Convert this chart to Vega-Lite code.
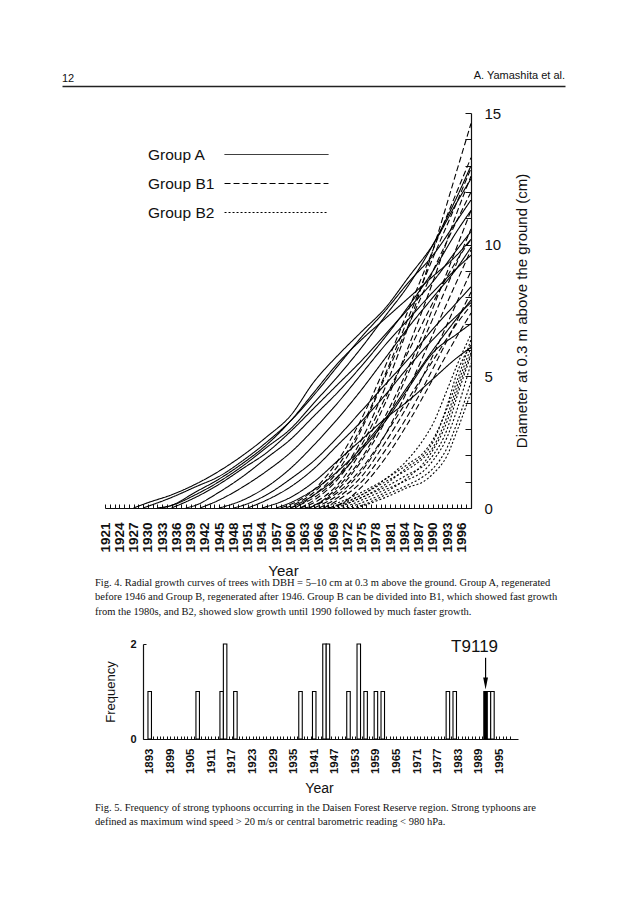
{
  "$schema": "https://vega.github.io/schema/vega-lite/v6.json",
  "background": "white",
  "padding": {"left": 62, "top": 70, "right": 10, "bottom": 10},
  "title": {"text": "12", "anchor": "start", "frame": "bounds", "dx": 0, "dy": 14, "offset": 0, "fontSize": 11, "fontWeight": "normal", "font": "Liberation Sans", "color": "#111"},
  "config": {
    "view": {"stroke": null},
    "font": "Liberation Sans",
    "axis": {"domainColor": "#111", "tickColor": "#111", "labelColor": "#111", "titleColor": "#111", "grid": false, "labelFont": "Liberation Sans", "titleFont": "Liberation Sans"},
    "axisY": {"labelOverlap": false}
  },
  "datasets": {
    "header": [{"running_head": "A. Yamashita et al."}],
    "trees": [
      {"tree":"A1","group":"Group A","year":1927,"diameter":0},{"tree":"A1","group":"Group A","year":1930,"diameter":0.2},{"tree":"A1","group":"Group A","year":1935,"diameter":0.5},{"tree":"A1","group":"Group A","year":1940,"diameter":0.9},{"tree":"A1","group":"Group A","year":1945,"diameter":1.4},{"tree":"A1","group":"Group A","year":1950,"diameter":2.0},{"tree":"A1","group":"Group A","year":1955,"diameter":2.7},{"tree":"A1","group":"Group A","year":1960,"diameter":3.5},{"tree":"A1","group":"Group A","year":1965,"diameter":4.8},{"tree":"A1","group":"Group A","year":1970,"diameter":5.8},{"tree":"A1","group":"Group A","year":1975,"diameter":6.7},{"tree":"A1","group":"Group A","year":1980,"diameter":7.6},{"tree":"A1","group":"Group A","year":1985,"diameter":8.8},{"tree":"A1","group":"Group A","year":1990,"diameter":10.0},{"tree":"A1","group":"Group A","year":1995,"diameter":11.6},{"tree":"A1","group":"Group A","year":1998,"diameter":12.5},
      {"tree":"A2","group":"Group A","year":1929,"diameter":0},{"tree":"A2","group":"Group A","year":1935,"diameter":0.4},{"tree":"A2","group":"Group A","year":1940,"diameter":0.8},{"tree":"A2","group":"Group A","year":1945,"diameter":1.2},{"tree":"A2","group":"Group A","year":1950,"diameter":1.8},{"tree":"A2","group":"Group A","year":1955,"diameter":2.5},{"tree":"A2","group":"Group A","year":1960,"diameter":3.3},{"tree":"A2","group":"Group A","year":1965,"diameter":4.3},{"tree":"A2","group":"Group A","year":1970,"diameter":5.4},{"tree":"A2","group":"Group A","year":1975,"diameter":6.5},{"tree":"A2","group":"Group A","year":1980,"diameter":7.5},{"tree":"A2","group":"Group A","year":1985,"diameter":8.6},{"tree":"A2","group":"Group A","year":1990,"diameter":9.6},{"tree":"A2","group":"Group A","year":1995,"diameter":10.9},{"tree":"A2","group":"Group A","year":1998,"diameter":11.7},
      {"tree":"A3","group":"Group A","year":1932,"diameter":0},{"tree":"A3","group":"Group A","year":1935,"diameter":0.1},{"tree":"A3","group":"Group A","year":1940,"diameter":0.5},{"tree":"A3","group":"Group A","year":1945,"diameter":1.0},{"tree":"A3","group":"Group A","year":1950,"diameter":1.6},{"tree":"A3","group":"Group A","year":1955,"diameter":2.3},{"tree":"A3","group":"Group A","year":1960,"diameter":3.0},{"tree":"A3","group":"Group A","year":1965,"diameter":4.0},{"tree":"A3","group":"Group A","year":1970,"diameter":5.0},{"tree":"A3","group":"Group A","year":1975,"diameter":6.1},{"tree":"A3","group":"Group A","year":1980,"diameter":7.3},{"tree":"A3","group":"Group A","year":1985,"diameter":8.5},{"tree":"A3","group":"Group A","year":1990,"diameter":10.0},{"tree":"A3","group":"Group A","year":1995,"diameter":11.8},{"tree":"A3","group":"Group A","year":1998,"diameter":13.0},
      {"tree":"A4","group":"Group A","year":1935,"diameter":0},{"tree":"A4","group":"Group A","year":1940,"diameter":0.4},{"tree":"A4","group":"Group A","year":1945,"diameter":0.9},{"tree":"A4","group":"Group A","year":1950,"diameter":1.5},{"tree":"A4","group":"Group A","year":1955,"diameter":2.1},{"tree":"A4","group":"Group A","year":1960,"diameter":2.9},{"tree":"A4","group":"Group A","year":1965,"diameter":3.8},{"tree":"A4","group":"Group A","year":1970,"diameter":4.7},{"tree":"A4","group":"Group A","year":1975,"diameter":5.6},{"tree":"A4","group":"Group A","year":1980,"diameter":6.6},{"tree":"A4","group":"Group A","year":1985,"diameter":7.6},{"tree":"A4","group":"Group A","year":1990,"diameter":8.6},{"tree":"A4","group":"Group A","year":1995,"diameter":9.8},{"tree":"A4","group":"Group A","year":1998,"diameter":10.5},
      {"tree":"A5","group":"Group A","year":1938,"diameter":0},{"tree":"A5","group":"Group A","year":1940,"diameter":0.1},{"tree":"A5","group":"Group A","year":1945,"diameter":0.6},{"tree":"A5","group":"Group A","year":1950,"diameter":1.2},{"tree":"A5","group":"Group A","year":1955,"diameter":1.9},{"tree":"A5","group":"Group A","year":1960,"diameter":2.6},{"tree":"A5","group":"Group A","year":1965,"diameter":3.5},{"tree":"A5","group":"Group A","year":1970,"diameter":4.4},{"tree":"A5","group":"Group A","year":1975,"diameter":5.4},{"tree":"A5","group":"Group A","year":1980,"diameter":6.5},{"tree":"A5","group":"Group A","year":1985,"diameter":7.7},{"tree":"A5","group":"Group A","year":1990,"diameter":9.0},{"tree":"A5","group":"Group A","year":1995,"diameter":10.5},{"tree":"A5","group":"Group A","year":1998,"diameter":11.3},
      {"tree":"A6","group":"Group A","year":1941,"diameter":0},{"tree":"A6","group":"Group A","year":1945,"diameter":0.3},{"tree":"A6","group":"Group A","year":1950,"diameter":0.8},{"tree":"A6","group":"Group A","year":1955,"diameter":1.4},{"tree":"A6","group":"Group A","year":1960,"diameter":2.1},{"tree":"A6","group":"Group A","year":1965,"diameter":3.0},{"tree":"A6","group":"Group A","year":1970,"diameter":4.0},{"tree":"A6","group":"Group A","year":1975,"diameter":5.1},{"tree":"A6","group":"Group A","year":1980,"diameter":6.2},{"tree":"A6","group":"Group A","year":1985,"diameter":7.2},{"tree":"A6","group":"Group A","year":1990,"diameter":8.2},{"tree":"A6","group":"Group A","year":1995,"diameter":9.1},{"tree":"A6","group":"Group A","year":1998,"diameter":9.6},
      {"tree":"A7","group":"Group A","year":1945,"diameter":0},{"tree":"A7","group":"Group A","year":1950,"diameter":0.3},{"tree":"A7","group":"Group A","year":1955,"diameter":0.8},{"tree":"A7","group":"Group A","year":1960,"diameter":1.5},{"tree":"A7","group":"Group A","year":1965,"diameter":2.4},{"tree":"A7","group":"Group A","year":1970,"diameter":3.4},{"tree":"A7","group":"Group A","year":1975,"diameter":4.5},{"tree":"A7","group":"Group A","year":1980,"diameter":5.7},{"tree":"A7","group":"Group A","year":1985,"diameter":6.9},{"tree":"A7","group":"Group A","year":1990,"diameter":8.0},{"tree":"A7","group":"Group A","year":1995,"diameter":9.1},{"tree":"A7","group":"Group A","year":1998,"diameter":9.9},
      {"tree":"A8","group":"Group A","year":1948,"diameter":0},{"tree":"A8","group":"Group A","year":1950,"diameter":0.1},{"tree":"A8","group":"Group A","year":1955,"diameter":0.5},{"tree":"A8","group":"Group A","year":1960,"diameter":1.1},{"tree":"A8","group":"Group A","year":1965,"diameter":1.8},{"tree":"A8","group":"Group A","year":1970,"diameter":2.7},{"tree":"A8","group":"Group A","year":1975,"diameter":3.7},{"tree":"A8","group":"Group A","year":1980,"diameter":4.7},{"tree":"A8","group":"Group A","year":1985,"diameter":5.7},{"tree":"A8","group":"Group A","year":1990,"diameter":6.8},{"tree":"A8","group":"Group A","year":1995,"diameter":7.8},{"tree":"A8","group":"Group A","year":1998,"diameter":8.4},
      {"tree":"A9","group":"Group A","year":1951,"diameter":0},{"tree":"A9","group":"Group A","year":1955,"diameter":0.3},{"tree":"A9","group":"Group A","year":1960,"diameter":0.8},{"tree":"A9","group":"Group A","year":1965,"diameter":1.5},{"tree":"A9","group":"Group A","year":1970,"diameter":2.4},{"tree":"A9","group":"Group A","year":1975,"diameter":3.3},{"tree":"A9","group":"Group A","year":1980,"diameter":4.3},{"tree":"A9","group":"Group A","year":1985,"diameter":5.4},{"tree":"A9","group":"Group A","year":1990,"diameter":6.4},{"tree":"A9","group":"Group A","year":1995,"diameter":7.3},{"tree":"A9","group":"Group A","year":1998,"diameter":7.8},
      {"tree":"A10","group":"Group A","year":1954,"diameter":0},{"tree":"A10","group":"Group A","year":1960,"diameter":0.4},{"tree":"A10","group":"Group A","year":1965,"diameter":1.0},{"tree":"A10","group":"Group A","year":1970,"diameter":1.8},{"tree":"A10","group":"Group A","year":1975,"diameter":2.6},{"tree":"A10","group":"Group A","year":1980,"diameter":3.4},{"tree":"A10","group":"Group A","year":1985,"diameter":4.1},{"tree":"A10","group":"Group A","year":1990,"diameter":4.9},{"tree":"A10","group":"Group A","year":1995,"diameter":5.7},{"tree":"A10","group":"Group A","year":1998,"diameter":6.1},
      {"tree":"A11","group":"Group A","year":1957,"diameter":0},{"tree":"A11","group":"Group A","year":1960,"diameter":0.2},{"tree":"A11","group":"Group A","year":1965,"diameter":0.7},{"tree":"A11","group":"Group A","year":1970,"diameter":1.4},{"tree":"A11","group":"Group A","year":1975,"diameter":2.3},{"tree":"A11","group":"Group A","year":1980,"diameter":3.4},{"tree":"A11","group":"Group A","year":1985,"diameter":4.7},{"tree":"A11","group":"Group A","year":1990,"diameter":6.0},{"tree":"A11","group":"Group A","year":1995,"diameter":7.2},{"tree":"A11","group":"Group A","year":1998,"diameter":7.9},
      {"tree":"A12","group":"Group A","year":1960,"diameter":0},{"tree":"A12","group":"Group A","year":1965,"diameter":0.5},{"tree":"A12","group":"Group A","year":1970,"diameter":1.2},{"tree":"A12","group":"Group A","year":1975,"diameter":2.2},{"tree":"A12","group":"Group A","year":1980,"diameter":3.3},{"tree":"A12","group":"Group A","year":1985,"diameter":4.6},{"tree":"A12","group":"Group A","year":1990,"diameter":5.9},{"tree":"A12","group":"Group A","year":1995,"diameter":6.6},{"tree":"A12","group":"Group A","year":1998,"diameter":7.0},
      {"tree":"A13","group":"Group A","year":1933,"diameter":0},{"tree":"A13","group":"Group A","year":1935,"diameter":0.1},{"tree":"A13","group":"Group A","year":1940,"diameter":0.6},{"tree":"A13","group":"Group A","year":1945,"diameter":1.1},{"tree":"A13","group":"Group A","year":1950,"diameter":1.7},{"tree":"A13","group":"Group A","year":1955,"diameter":2.4},{"tree":"A13","group":"Group A","year":1960,"diameter":3.3},{"tree":"A13","group":"Group A","year":1965,"diameter":4.4},{"tree":"A13","group":"Group A","year":1970,"diameter":5.5},{"tree":"A13","group":"Group A","year":1975,"diameter":6.4},{"tree":"A13","group":"Group A","year":1980,"diameter":7.2},{"tree":"A13","group":"Group A","year":1985,"diameter":8.0},{"tree":"A13","group":"Group A","year":1990,"diameter":8.8},{"tree":"A13","group":"Group A","year":1995,"diameter":9.6},{"tree":"A13","group":"Group A","year":1998,"diameter":10.2},
      {"tree":"B1-1","group":"Group B1","year":1960,"diameter":0},{"tree":"B1-1","group":"Group B1","year":1965,"diameter":0.4},{"tree":"B1-1","group":"Group B1","year":1970,"diameter":1.2},{"tree":"B1-1","group":"Group B1","year":1975,"diameter":2.6},{"tree":"B1-1","group":"Group B1","year":1980,"diameter":4.6},{"tree":"B1-1","group":"Group B1","year":1985,"diameter":7.0},{"tree":"B1-1","group":"Group B1","year":1990,"diameter":9.8},{"tree":"B1-1","group":"Group B1","year":1995,"diameter":12.8},{"tree":"B1-1","group":"Group B1","year":1998,"diameter":14.6},
      {"tree":"B1-2","group":"Group B1","year":1958,"diameter":0},{"tree":"B1-2","group":"Group B1","year":1965,"diameter":0.7},{"tree":"B1-2","group":"Group B1","year":1970,"diameter":1.8},{"tree":"B1-2","group":"Group B1","year":1975,"diameter":3.4},{"tree":"B1-2","group":"Group B1","year":1980,"diameter":5.4},{"tree":"B1-2","group":"Group B1","year":1985,"diameter":7.6},{"tree":"B1-2","group":"Group B1","year":1990,"diameter":9.8},{"tree":"B1-2","group":"Group B1","year":1995,"diameter":12.0},{"tree":"B1-2","group":"Group B1","year":1998,"diameter":13.3},
      {"tree":"B1-3","group":"Group B1","year":1962,"diameter":0},{"tree":"B1-3","group":"Group B1","year":1965,"diameter":0.2},{"tree":"B1-3","group":"Group B1","year":1970,"diameter":0.9},{"tree":"B1-3","group":"Group B1","year":1975,"diameter":2.2},{"tree":"B1-3","group":"Group B1","year":1980,"diameter":4.0},{"tree":"B1-3","group":"Group B1","year":1985,"diameter":6.2},{"tree":"B1-3","group":"Group B1","year":1990,"diameter":8.6},{"tree":"B1-3","group":"Group B1","year":1995,"diameter":11.2},{"tree":"B1-3","group":"Group B1","year":1998,"diameter":12.6},
      {"tree":"B1-4","group":"Group B1","year":1961,"diameter":0},{"tree":"B1-4","group":"Group B1","year":1965,"diameter":0.5},{"tree":"B1-4","group":"Group B1","year":1970,"diameter":1.4},{"tree":"B1-4","group":"Group B1","year":1975,"diameter":3.0},{"tree":"B1-4","group":"Group B1","year":1980,"diameter":5.0},{"tree":"B1-4","group":"Group B1","year":1985,"diameter":7.0},{"tree":"B1-4","group":"Group B1","year":1990,"diameter":9.0},{"tree":"B1-4","group":"Group B1","year":1995,"diameter":10.9},{"tree":"B1-4","group":"Group B1","year":1998,"diameter":12.0},
      {"tree":"B1-5","group":"Group B1","year":1963,"diameter":0},{"tree":"B1-5","group":"Group B1","year":1965,"diameter":0.1},{"tree":"B1-5","group":"Group B1","year":1970,"diameter":0.8},{"tree":"B1-5","group":"Group B1","year":1975,"diameter":1.9},{"tree":"B1-5","group":"Group B1","year":1980,"diameter":3.5},{"tree":"B1-5","group":"Group B1","year":1985,"diameter":5.4},{"tree":"B1-5","group":"Group B1","year":1990,"diameter":7.6},{"tree":"B1-5","group":"Group B1","year":1995,"diameter":9.9},{"tree":"B1-5","group":"Group B1","year":1998,"diameter":11.3},
      {"tree":"B1-6","group":"Group B1","year":1964,"diameter":0},{"tree":"B1-6","group":"Group B1","year":1970,"diameter":0.7},{"tree":"B1-6","group":"Group B1","year":1975,"diameter":1.8},{"tree":"B1-6","group":"Group B1","year":1980,"diameter":3.3},{"tree":"B1-6","group":"Group B1","year":1985,"diameter":5.2},{"tree":"B1-6","group":"Group B1","year":1990,"diameter":7.2},{"tree":"B1-6","group":"Group B1","year":1995,"diameter":9.3},{"tree":"B1-6","group":"Group B1","year":1998,"diameter":10.6},
      {"tree":"B1-7","group":"Group B1","year":1962,"diameter":0},{"tree":"B1-7","group":"Group B1","year":1965,"diameter":0.3},{"tree":"B1-7","group":"Group B1","year":1970,"diameter":1.1},{"tree":"B1-7","group":"Group B1","year":1975,"diameter":2.4},{"tree":"B1-7","group":"Group B1","year":1980,"diameter":4.2},{"tree":"B1-7","group":"Group B1","year":1985,"diameter":6.0},{"tree":"B1-7","group":"Group B1","year":1990,"diameter":7.8},{"tree":"B1-7","group":"Group B1","year":1995,"diameter":9.4},{"tree":"B1-7","group":"Group B1","year":1998,"diameter":10.2},
      {"tree":"B1-8","group":"Group B1","year":1965,"diameter":0},{"tree":"B1-8","group":"Group B1","year":1970,"diameter":0.5},{"tree":"B1-8","group":"Group B1","year":1975,"diameter":1.4},{"tree":"B1-8","group":"Group B1","year":1980,"diameter":2.8},{"tree":"B1-8","group":"Group B1","year":1985,"diameter":4.6},{"tree":"B1-8","group":"Group B1","year":1990,"diameter":6.6},{"tree":"B1-8","group":"Group B1","year":1995,"diameter":8.6},{"tree":"B1-8","group":"Group B1","year":1998,"diameter":9.8},
      {"tree":"B1-9","group":"Group B1","year":1966,"diameter":0},{"tree":"B1-9","group":"Group B1","year":1970,"diameter":0.4},{"tree":"B1-9","group":"Group B1","year":1975,"diameter":1.2},{"tree":"B1-9","group":"Group B1","year":1980,"diameter":2.5},{"tree":"B1-9","group":"Group B1","year":1985,"diameter":4.0},{"tree":"B1-9","group":"Group B1","year":1990,"diameter":5.8},{"tree":"B1-9","group":"Group B1","year":1995,"diameter":7.8},{"tree":"B1-9","group":"Group B1","year":1998,"diameter":9.0},
      {"tree":"B1-10","group":"Group B1","year":1967,"diameter":0},{"tree":"B1-10","group":"Group B1","year":1970,"diameter":0.3},{"tree":"B1-10","group":"Group B1","year":1975,"diameter":1.0},{"tree":"B1-10","group":"Group B1","year":1980,"diameter":2.2},{"tree":"B1-10","group":"Group B1","year":1985,"diameter":3.6},{"tree":"B1-10","group":"Group B1","year":1990,"diameter":5.3},{"tree":"B1-10","group":"Group B1","year":1995,"diameter":7.1},{"tree":"B1-10","group":"Group B1","year":1998,"diameter":8.2},
      {"tree":"B1-11","group":"Group B1","year":1964,"diameter":0},{"tree":"B1-11","group":"Group B1","year":1970,"diameter":0.6},{"tree":"B1-11","group":"Group B1","year":1975,"diameter":1.5},{"tree":"B1-11","group":"Group B1","year":1980,"diameter":2.8},{"tree":"B1-11","group":"Group B1","year":1985,"diameter":4.2},{"tree":"B1-11","group":"Group B1","year":1990,"diameter":5.6},{"tree":"B1-11","group":"Group B1","year":1995,"diameter":7.0},{"tree":"B1-11","group":"Group B1","year":1998,"diameter":7.7},
      {"tree":"B1-12","group":"Group B1","year":1968,"diameter":0},{"tree":"B1-12","group":"Group B1","year":1970,"diameter":0.1},{"tree":"B1-12","group":"Group B1","year":1975,"diameter":0.8},{"tree":"B1-12","group":"Group B1","year":1980,"diameter":1.9},{"tree":"B1-12","group":"Group B1","year":1985,"diameter":3.3},{"tree":"B1-12","group":"Group B1","year":1990,"diameter":4.9},{"tree":"B1-12","group":"Group B1","year":1995,"diameter":6.5},{"tree":"B1-12","group":"Group B1","year":1998,"diameter":7.4},
      {"tree":"B1-13","group":"Group B1","year":1959,"diameter":0},{"tree":"B1-13","group":"Group B1","year":1965,"diameter":0.6},{"tree":"B1-13","group":"Group B1","year":1970,"diameter":1.6},{"tree":"B1-13","group":"Group B1","year":1975,"diameter":3.1},{"tree":"B1-13","group":"Group B1","year":1980,"diameter":5.1},{"tree":"B1-13","group":"Group B1","year":1985,"diameter":7.3},{"tree":"B1-13","group":"Group B1","year":1990,"diameter":9.5},{"tree":"B1-13","group":"Group B1","year":1995,"diameter":11.6},{"tree":"B1-13","group":"Group B1","year":1998,"diameter":12.9},
      {"tree":"B2-1","group":"Group B2","year":1966,"diameter":0},{"tree":"B2-1","group":"Group B2","year":1970,"diameter":0.2},{"tree":"B2-1","group":"Group B2","year":1975,"diameter":0.6},{"tree":"B2-1","group":"Group B2","year":1980,"diameter":1.1},{"tree":"B2-1","group":"Group B2","year":1985,"diameter":1.7},{"tree":"B2-1","group":"Group B2","year":1988,"diameter":2.1},{"tree":"B2-1","group":"Group B2","year":1990,"diameter":2.6},{"tree":"B2-1","group":"Group B2","year":1993,"diameter":3.8},{"tree":"B2-1","group":"Group B2","year":1995,"diameter":4.8},{"tree":"B2-1","group":"Group B2","year":1998,"diameter":6.4},
      {"tree":"B2-2","group":"Group B2","year":1968,"diameter":0},{"tree":"B2-2","group":"Group B2","year":1975,"diameter":0.5},{"tree":"B2-2","group":"Group B2","year":1980,"diameter":1.0},{"tree":"B2-2","group":"Group B2","year":1985,"diameter":1.5},{"tree":"B2-2","group":"Group B2","year":1988,"diameter":1.9},{"tree":"B2-2","group":"Group B2","year":1990,"diameter":2.3},{"tree":"B2-2","group":"Group B2","year":1993,"diameter":3.5},{"tree":"B2-2","group":"Group B2","year":1995,"diameter":4.6},{"tree":"B2-2","group":"Group B2","year":1998,"diameter":6.1},
      {"tree":"B2-3","group":"Group B2","year":1970,"diameter":0},{"tree":"B2-3","group":"Group B2","year":1975,"diameter":0.4},{"tree":"B2-3","group":"Group B2","year":1980,"diameter":0.8},{"tree":"B2-3","group":"Group B2","year":1985,"diameter":1.3},{"tree":"B2-3","group":"Group B2","year":1988,"diameter":1.6},{"tree":"B2-3","group":"Group B2","year":1990,"diameter":2.0},{"tree":"B2-3","group":"Group B2","year":1993,"diameter":3.0},{"tree":"B2-3","group":"Group B2","year":1995,"diameter":4.2},{"tree":"B2-3","group":"Group B2","year":1998,"diameter":5.8},
      {"tree":"B2-4","group":"Group B2","year":1971,"diameter":0},{"tree":"B2-4","group":"Group B2","year":1975,"diameter":0.3},{"tree":"B2-4","group":"Group B2","year":1980,"diameter":0.7},{"tree":"B2-4","group":"Group B2","year":1985,"diameter":1.1},{"tree":"B2-4","group":"Group B2","year":1988,"diameter":1.4},{"tree":"B2-4","group":"Group B2","year":1990,"diameter":1.8},{"tree":"B2-4","group":"Group B2","year":1993,"diameter":2.7},{"tree":"B2-4","group":"Group B2","year":1995,"diameter":3.7},{"tree":"B2-4","group":"Group B2","year":1998,"diameter":5.5},
      {"tree":"B2-5","group":"Group B2","year":1969,"diameter":0},{"tree":"B2-5","group":"Group B2","year":1975,"diameter":0.4},{"tree":"B2-5","group":"Group B2","year":1980,"diameter":0.9},{"tree":"B2-5","group":"Group B2","year":1985,"diameter":1.6},{"tree":"B2-5","group":"Group B2","year":1988,"diameter":2.0},{"tree":"B2-5","group":"Group B2","year":1990,"diameter":2.5},{"tree":"B2-5","group":"Group B2","year":1993,"diameter":3.9},{"tree":"B2-5","group":"Group B2","year":1995,"diameter":5.1},{"tree":"B2-5","group":"Group B2","year":1998,"diameter":6.2},
      {"tree":"B2-6","group":"Group B2","year":1973,"diameter":0},{"tree":"B2-6","group":"Group B2","year":1975,"diameter":0.1},{"tree":"B2-6","group":"Group B2","year":1980,"diameter":0.5},{"tree":"B2-6","group":"Group B2","year":1985,"diameter":0.9},{"tree":"B2-6","group":"Group B2","year":1988,"diameter":1.2},{"tree":"B2-6","group":"Group B2","year":1990,"diameter":1.5},{"tree":"B2-6","group":"Group B2","year":1993,"diameter":2.3},{"tree":"B2-6","group":"Group B2","year":1995,"diameter":3.2},{"tree":"B2-6","group":"Group B2","year":1998,"diameter":4.8},
      {"tree":"B2-7","group":"Group B2","year":1974,"diameter":0},{"tree":"B2-7","group":"Group B2","year":1980,"diameter":0.4},{"tree":"B2-7","group":"Group B2","year":1985,"diameter":0.8},{"tree":"B2-7","group":"Group B2","year":1988,"diameter":1.0},{"tree":"B2-7","group":"Group B2","year":1990,"diameter":1.3},{"tree":"B2-7","group":"Group B2","year":1993,"diameter":2.0},{"tree":"B2-7","group":"Group B2","year":1995,"diameter":2.9},{"tree":"B2-7","group":"Group B2","year":1998,"diameter":4.4},
      {"tree":"B2-8","group":"Group B2","year":1967,"diameter":0},{"tree":"B2-8","group":"Group B2","year":1970,"diameter":0.1},{"tree":"B2-8","group":"Group B2","year":1975,"diameter":0.5},{"tree":"B2-8","group":"Group B2","year":1980,"diameter":1.1},{"tree":"B2-8","group":"Group B2","year":1985,"diameter":1.9},{"tree":"B2-8","group":"Group B2","year":1988,"diameter":2.6},{"tree":"B2-8","group":"Group B2","year":1990,"diameter":3.2},{"tree":"B2-8","group":"Group B2","year":1993,"diameter":4.5},{"tree":"B2-8","group":"Group B2","year":1995,"diameter":5.4},{"tree":"B2-8","group":"Group B2","year":1998,"diameter":6.6},
      {"tree":"B2-9","group":"Group B2","year":1972,"diameter":0},{"tree":"B2-9","group":"Group B2","year":1975,"diameter":0.2},{"tree":"B2-9","group":"Group B2","year":1980,"diameter":0.6},{"tree":"B2-9","group":"Group B2","year":1985,"diameter":1.2},{"tree":"B2-9","group":"Group B2","year":1988,"diameter":1.7},{"tree":"B2-9","group":"Group B2","year":1990,"diameter":2.2},{"tree":"B2-9","group":"Group B2","year":1993,"diameter":3.3},{"tree":"B2-9","group":"Group B2","year":1995,"diameter":4.4},{"tree":"B2-9","group":"Group B2","year":1998,"diameter":5.9}
    ],
    "typhoons": [
      {"year":1893,"frequency":1,"typhoon":""},{"year":1907,"frequency":1,"typhoon":""},{"year":1914,"frequency":1,"typhoon":""},{"year":1915,"frequency":2,"typhoon":""},{"year":1918,"frequency":1,"typhoon":""},{"year":1937,"frequency":1,"typhoon":""},{"year":1941,"frequency":1,"typhoon":""},{"year":1944,"frequency":2,"typhoon":""},{"year":1945,"frequency":2,"typhoon":""},{"year":1951,"frequency":1,"typhoon":""},{"year":1954,"frequency":2,"typhoon":""},{"year":1956,"frequency":1,"typhoon":""},{"year":1959,"frequency":1,"typhoon":""},{"year":1961,"frequency":1,"typhoon":""},{"year":1980,"frequency":1,"typhoon":""},{"year":1982,"frequency":1,"typhoon":""},{"year":1991,"frequency":1,"typhoon":"T9119"},{"year":1992,"frequency":1,"typhoon":""},{"year":1993,"frequency":1,"typhoon":""}
    ]
  },
  "concat": [
    {
      "width": 503, "height": 14,
      "data": {"name": "header"},
      "mark": {"type": "text", "align": "right", "baseline": "alphabetic", "fontSize": 11, "font": "Liberation Sans", "color": "#111"},
      "encoding": {
        "x": {"datum": 1, "type": "quantitative", "scale": {"domain": [0, 1], "nice": false}, "axis": {"labels": false, "ticks": false, "grid": false, "title": null, "domain": true, "domainWidth": 1.6, "domainColor": "#222"}},
        "text": {"field": "running_head"}
      }
    },
    {
      "width": 409, "height": 395,
      "data": {"name": "trees"},
      "title": {
        "text": ["Fig. 4. Radial growth curves of trees with DBH = 5–10 cm at 0.3 m above the ground. Group A, regenerated", "before 1946 and Group B, regenerated after 1946. Group B can be divided into B1, which showed fast growth", "from the 1980s, and B2, showed slow growth until 1990 followed by much faster growth."],
        "orient": "bottom", "anchor": "start", "frame": "group", "align": "left", "dx": 33, "offset": 0,
        "font": "Liberation Serif", "fontSize": 10.5, "fontWeight": "normal", "lineHeight": 14.4, "color": "#111"
      },
      "mark": {"type": "line", "color": "black", "strokeWidth": 1.1, "interpolate": "monotone"},
      "encoding": {
        "x": {"field": "year", "type": "quantitative", "scale": {"domain": [1921, 1998], "range": [43, 409], "nice": false, "zero": false},
          "axis": {"values": [1921,1922,1923,1924,1925,1926,1927,1928,1929,1930,1931,1932,1933,1934,1935,1936,1937,1938,1939,1940,1941,1942,1943,1944,1945,1946,1947,1948,1949,1950,1951,1952,1953,1954,1955,1956,1957,1958,1959,1960,1961,1962,1963,1964,1965,1966,1967,1968,1969,1970,1971,1972,1973,1974,1975,1976,1977,1978,1979,1980,1981,1982,1983,1984,1985,1986,1987,1988,1989,1990,1991,1992,1993,1994,1995,1996,1997,1998],
            "format": "d", "labelExpr": "(datum.value - 1921) % 3 === 0 && datum.value <= 1996 ? datum.label : ''",
            "labelAngle": -90, "labelFontSize": 13.5, "labelFontWeight": "bold", "labelOverlap": false, "labelFlush": false, "labelBound": false,
            "tickSize": -4, "labelPadding": 18, "domainWidth": 1.2,
            "title": "Year", "titleFontSize": 15, "titleFontWeight": "normal", "titlePadding": 11, "titleX": 221}},
        "y": {"field": "diameter", "type": "quantitative", "scale": {"domain": [0, 15], "nice": false},
          "axis": {"orient": "right", "values": [0,1,2,3,4,5,6,7,8,9,10,11,12,13,14,15],
            "labelExpr": "datum.value % 5 === 0 ? datum.label : ''", "labelFontSize": 15, "labelOverlap": false,
            "tickSize": -6, "labelPadding": 19, "domainWidth": 1.2,
            "title": "Diameter at 0.3 m above the ground (cm)", "titleAngle": 270, "titleFontSize": 15, "titleFontWeight": "normal", "titlePadding": 29}},
        "detail": {"field": "tree"},
        "strokeDash": {"field": "group", "type": "nominal",
          "scale": {"domain": ["Group A", "Group B1", "Group B2"], "range": [[1, 0], [6, 3], [2, 2]]},
          "legend": {"orient": "none", "legendX": 205, "legendY": 73, "title": null, "symbolType": "M-6,0L6,0", "symbolSize": 300, "symbolStrokeColor": "black", "symbolFillColor": "transparent", "symbolStrokeWidth": 1, "labelFont": "Liberation Sans", "labelFontSize": 15.5, "labelColor": "#111", "labelOffset": -138, "labelLimit": 0, "rowPadding": 11, "padding": 0}}
      }
    },
    {
      "width": 456, "height": 95,
      "data": {"name": "typhoons"},
      "title": {
        "text": ["Fig. 5. Frequency of strong typhoons occurring in the Daisen Forest Reserve region. Strong typhoons are", "defined as maximum wind speed > 20 m/s or central barometric reading < 980 hPa."],
        "orient": "bottom", "anchor": "start", "frame": "group", "align": "left", "dx": 33, "offset": 7,
        "font": "Liberation Serif", "fontSize": 10.5, "fontWeight": "normal", "lineHeight": 14.4, "color": "#111"
      },
      "encoding": {
        "x": {"field": "year", "type": "quantitative", "scale": {"domain": [1892.5, 1999], "range": [81, 456], "nice": false, "zero": false},
          "axis": {"values": [1893,1894,1895,1896,1897,1898,1899,1900,1901,1902,1903,1904,1905,1906,1907,1908,1909,1910,1911,1912,1913,1914,1915,1916,1917,1918,1919,1920,1921,1922,1923,1924,1925,1926,1927,1928,1929,1930,1931,1932,1933,1934,1935,1936,1937,1938,1939,1940,1941,1942,1943,1944,1945,1946,1947,1948,1949,1950,1951,1952,1953,1954,1955,1956,1957,1958,1959,1960,1961,1962,1963,1964,1965,1966,1967,1968,1969,1970,1971,1972,1973,1974,1975,1976,1977,1978,1979,1980,1981,1982,1983,1984,1985,1986,1987,1988,1989,1990,1991,1992,1993,1994,1995,1996,1997,1998],
            "format": "d", "labelExpr": "(datum.value - 1893) % 6 === 0 && datum.value <= 1995 ? datum.label : ''",
            "labelAngle": -90, "labelFontSize": 11.5, "labelFontWeight": "bold", "labelOverlap": false, "labelFlush": false, "labelBound": false,
            "tickSize": -3, "labelPadding": 12, "domainWidth": 1.2,
            "title": "Year", "titleFontSize": 14, "titleFontWeight": "normal", "titlePadding": 8, "titleX": 257}},
        "y": {"field": "frequency", "type": "quantitative", "scale": {"domain": [0, 2], "nice": false},
          "axis": {"values": [0, 1, 2], "format": "d", "offset": -81, "labelOverlap": false, "labelFlush": false, "labelBound": false, "labelFontSize": 11, "labelFontWeight": "bold", "tickSize": -3, "labelPadding": 10, "domainWidth": 1.2,
            "title": "Frequency", "titleFontSize": 13, "titleFontWeight": "normal", "titlePadding": 12}}
      },
      "layer": [
        {
          "mark": {"type": "bar", "width": 3.5, "stroke": "black", "strokeWidth": 1.1},
          "encoding": {
            "fill": {"condition": {"test": "datum.typhoon === 'T9119'", "value": "black"}, "value": "white"}
          }
        },
        {
          "transform": [{"filter": "datum.typhoon === 'T9119'"}],
          "mark": {"type": "rule", "color": "black", "strokeWidth": 1.2},
          "encoding": {
            "y": {"datum": 1.71, "type": "quantitative",
              "axis": {"values": [0, 1, 2], "format": "d", "offset": -81, "labelOverlap": false, "labelFlush": false, "labelBound": false, "labelFontSize": 11, "labelFontWeight": "bold", "tickSize": -3, "labelPadding": 10, "domainWidth": 1.2, "title": "Frequency", "titleFontSize": 13, "titleFontWeight": "normal", "titlePadding": 12}},
            "y2": {"datum": 1.2}
          }
        },
        {
          "transform": [{"filter": "datum.typhoon === 'T9119'"}],
          "mark": {"type": "point", "shape": "M-0.4,-1L0.4,-1L0,1Z", "filled": true, "color": "black", "size": 144, "opacity": 1},
          "encoding": {
            "y": {"datum": 1.17, "type": "quantitative",
              "axis": {"values": [0, 1, 2], "format": "d", "offset": -81, "labelOverlap": false, "labelFlush": false, "labelBound": false, "labelFontSize": 11, "labelFontWeight": "bold", "tickSize": -3, "labelPadding": 10, "domainWidth": 1.2, "title": "Frequency", "titleFontSize": 13, "titleFontWeight": "normal", "titlePadding": 12}}
          }
        },
        {
          "transform": [{"filter": "datum.typhoon === 'T9119'"}],
          "mark": {"type": "text", "fontSize": 17, "font": "Liberation Sans", "dx": -11, "color": "#111", "baseline": "middle"},
          "encoding": {
            "y": {"datum": 1.93, "type": "quantitative",
              "axis": {"values": [0, 1, 2], "format": "d", "offset": -81, "labelOverlap": false, "labelFlush": false, "labelBound": false, "labelFontSize": 11, "labelFontWeight": "bold", "tickSize": -3, "labelPadding": 10, "domainWidth": 1.2, "title": "Frequency", "titleFontSize": 13, "titleFontWeight": "normal", "titlePadding": 12}},
            "text": {"field": "typhoon"}
          }
        }
      ]
    }
  ],
  "columns": 1,
  "align": "none",
  "spacing": 20
}
